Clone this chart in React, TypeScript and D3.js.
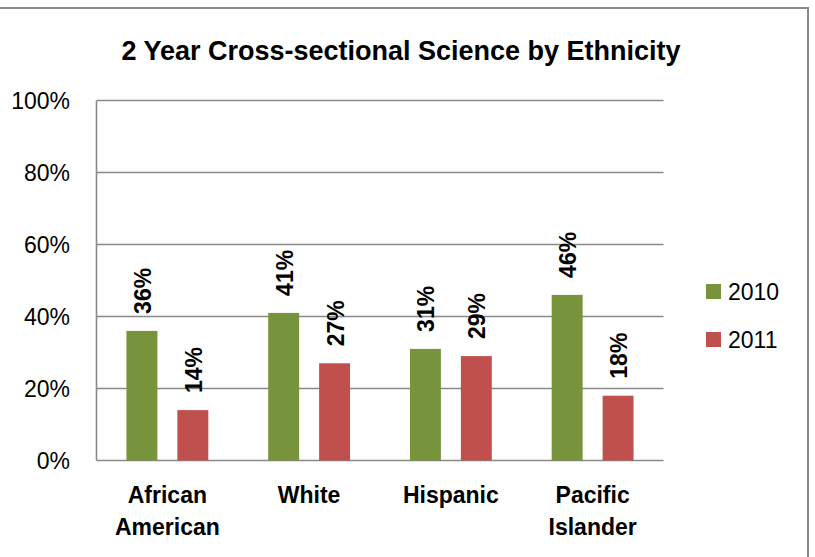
import React from "react";
import * as d3 from "d3";

const categories: string[][] = [["African", "American"], ["White"], ["Hispanic"], ["Pacific", "Islander"]];
const seriesNames = ["2010", "2011"];
const values2010 = [0.36, 0.41, 0.31, 0.46];
const values2011 = [0.14, 0.27, 0.29, 0.18];
const yTicks = [0, 0.2, 0.4, 0.6, 0.8, 1.0];
const seriesColors = ["#77933C", "#C0504D"];
const title = "2 Year Cross-sectional Science by Ethnicity";

const W = 815;
const H = 557;
const plot = { left: 96.5, right: 663.5, top: 100.5, bottom: 460.5 };
const FONT = "'Liberation Sans', Arial, sans-serif";

export default function App() {
  const keys = categories.map((c) => c.join(" "));
  const x = d3.scaleBand<string>().domain(keys).range([plot.left, plot.right]).padding(0);
  const inner = d3
    .scaleBand<string>()
    .domain(seriesNames)
    .range([0, x.bandwidth()])
    .paddingInner(20 / 51)
    .paddingOuter(0.588);
  const y = d3.scaleLinear().domain([0, 1]).range([plot.bottom, plot.top]);
  const fmt = d3.format(".0%");
  const series = [values2010, values2011];

  return (
    <svg
      width={W}
      height={H}
      style={{ position: "absolute", left: 0, top: 0, background: "#fff" }}
      fontFamily={FONT}
    >
      <rect x={-3} y={8} width={811} height={H + 10} fill="#fff" stroke="#898989" strokeWidth={2} />
      <text x={401} y={60} textAnchor="middle" fontWeight="bold" fontSize={27} fill="#000">
        {title}
      </text>

      {yTicks.map((t) => (
        <g key={t}>
          <line x1={plot.left} x2={plot.right} y1={y(t)} y2={y(t)} stroke="#898989" strokeWidth={1.6} />
          <text x={70} y={y(t)} dy="0.36em" textAnchor="end" fontSize={23} fill="#000">
            {fmt(t)}
          </text>
        </g>
      ))}
      <line x1={plot.left} x2={plot.left} y1={plot.top} y2={plot.bottom} stroke="#898989" strokeWidth={1.6} />

      {keys.map((k, i) =>
        seriesNames.map((s, j) => {
          const v = series[j][i];
          const bx = (x(k) as number) + (inner(s) as number);
          const bw = inner.bandwidth();
          const top = y(v);
          const cx = bx + bw / 2;
          return (
            <g key={k + s}>
              <rect x={bx} y={top} width={bw} height={plot.bottom - top} fill={seriesColors[j]} />
              <text
                transform={`translate(${cx + 9},${top - 17}) rotate(-90)`}
                fontSize={23}
                fontWeight="bold"
                fill="#000"
              >
                {fmt(v)}
              </text>
            </g>
          );
        })
      )}

      {categories.map((lines, i) => (
        <text
          key={keys[i]}
          x={(x(keys[i]) as number) + x.bandwidth() / 2}
          textAnchor="middle"
          fontSize={23}
          fontWeight="bold"
          fill="#000"
        >
          {lines.map((ln, li) => (
            <tspan key={ln} x={(x(keys[i]) as number) + x.bandwidth() / 2} y={503 + li * 32}>
              {ln}
            </tspan>
          ))}
        </text>
      ))}

      {seriesNames.map((s, j) => (
        <g key={s} transform={`translate(706,${284 + j * 48})`}>
          <rect width={15} height={15} fill={seriesColors[j]} />
          <text x={22} y={15.5} fontSize={23} fill="#000">
            {s}
          </text>
        </g>
      ))}
    </svg>
  );
}
